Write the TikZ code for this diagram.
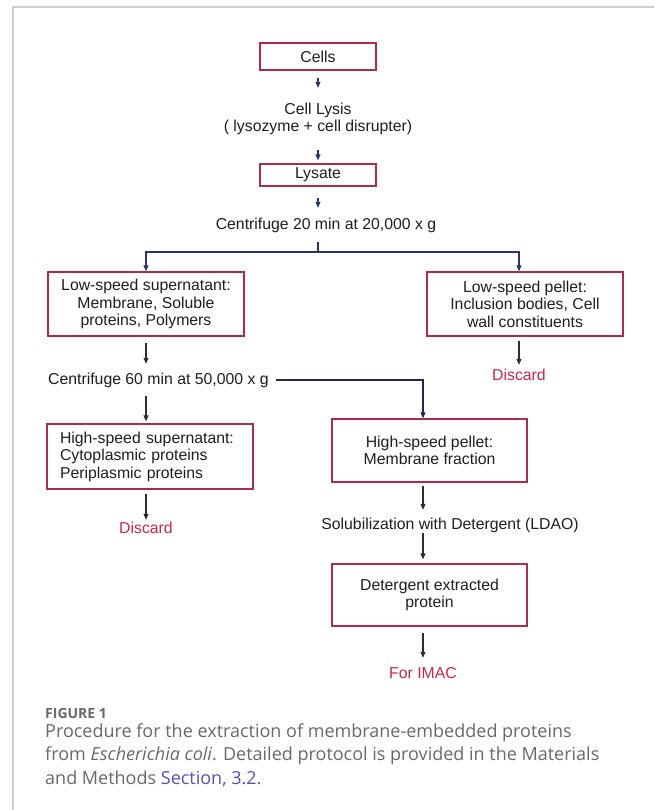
\documentclass[tikz,border=0pt]{standalone}
\usepackage{fontspec}
\setmainfont{Liberation Sans}
\newfontfamily\capfont{Open Sans}
\usetikzlibrary{arrows.meta}
\definecolor{boxred}{RGB}{170,45,75}
\definecolor{navy}{RGB}{40,52,110}
\definecolor{darkline}{RGB}{45,45,55}
\definecolor{darknavy}{RGB}{35,40,75}
\definecolor{redtxt}{RGB}{200,40,75}
\definecolor{txt}{RGB}{30,30,30}
\definecolor{capgray}{RGB}{105,105,105}
\definecolor{linkblue}{RGB}{90,80,180}
\definecolor{framegray}{RGB}{205,205,205}
\begin{document}
\begin{tikzpicture}[x=1pt,y=-1pt,
  every node/.style={font=\fontsize{15.8}{17.5}\selectfont, text=txt, inner sep=0pt},
  procbox/.style={draw=boxred, line width=1.4pt, align=center},
  plain/.style={align=center},
  redlabel/.style={text=redtxt},
  captext/.style={anchor=base west, font=\capfont\fontsize{18}{22}\selectfont, text=capgray},
  arrnavy/.style={draw=navy, line width=1.1pt, -{Triangle[length=6pt,width=5pt]}},
  arrdark/.style={draw=darkline, line width=1.1pt, -{Triangle[length=6pt,width=5pt]}},
  arrdn/.style={draw=darknavy, line width=1.1pt, -{Triangle[length=6pt,width=5pt]}},
]
\useasboundingbox (0,0) rectangle (654,810);
\fill[white] (0,0) rectangle (654,810);
\draw[framegray, line width=1.5pt] (13,810) -- (13,7) -- (654,7);

% nodes
\node[procbox, minimum width=116pt, minimum height=27pt] (cells) at (318,56.5) {Cells};
\node[plain, minimum height=62pt] (lysis) at (318,119) {Cell Lysis\\( lysozyme + cell disrupter)};
\node[procbox, minimum width=116pt, minimum height=22pt] (lysate) at (318,175) {Lysate};
\node[plain, minimum height=34pt] (cf1) at (326,225) {Centrifuge 20 min at 20,000 x g};
\coordinate (split) at (318,252);
\node[procbox, minimum width=196pt, minimum height=64pt] (lss) at (146,304) {Low-speed supernatant:\\Membrane, Soluble\\proteins, Polymers};
\node[procbox, minimum width=196pt, minimum height=64pt] (lsp) at (525,304) {Low-speed pellet:\\Inclusion bodies, Cell\\wall constituents};
\node[redlabel, minimum height=20pt] (disc1) at (519,375) {Discard};
\node[anchor=west, minimum height=32pt] (cf2) at (48,380) {Centrifuge 60 min at 50,000 x g};
\node[procbox, minimum width=206pt, minimum height=65pt, align=left, text width=180pt] (hss) at (150,456.5) {High-speed supernatant:\\Cytoplasmic proteins\\Periplasmic proteins};
\node[redlabel, minimum height=16pt] (disc2) at (146,528) {Discard};
\node[procbox, minimum width=195pt, minimum height=63pt] (hsp) at (429.5,450.5) {High-speed pellet:\\Membrane fraction};
\node[plain, minimum height=16pt] (solub) at (450,525) {Solubilization with Detergent (LDAO)};
\node[procbox, minimum width=195pt, minimum height=62pt] (det) at (429.5,595) {Detergent extracted\\protein};
\node[redlabel, minimum height=16pt] (imac) at (423,673) {For IMAC};

\coordinate (lspx) at ([xshift=-6pt]lsp.south);
\coordinate (lspn) at ([xshift=-6pt]lsp.north);
\coordinate (hspn) at ([xshift=-6.5pt]hsp.north);
\coordinate (hspx) at ([xshift=-6.5pt]hsp.south);
\coordinate (detn) at ([xshift=-6.5pt]det.north);
\coordinate (detx) at ([xshift=-6.5pt]det.south);

% connectors
\draw[arrnavy, shorten <=7pt] (cells) -- (lysis);
\draw[arrnavy, shorten >=3pt] (lysis) -- (lysate);
\draw[arrnavy, shorten <=11pt] (lysate.south) -- (lysate.south |- cf1.north);
\draw[navy, line width=1.1pt] (lysate.south |- cf1.south) -- (split);
\draw[arrnavy] (split) -| (lss.north);
\draw[arrnavy] (split) -| (lspn);
\draw[arrdark, shorten <=4pt] (lspx) -- (disc1.north);
\draw[arrdark, shorten <=6pt] (lss.south) -- (lss.south |- cf2.north);
\draw[arrdark, shorten >=2pt] (lss.south |- cf2.south) -- (lss.south |- hss.north);
\draw[arrdn, shorten <=7pt] (cf2.east) -| (hspn);
\draw[arrdark, shorten <=4pt] (lss.south |- hss.south) -- (disc2.north);
\draw[arrdark, shorten <=3pt, shorten >=7pt] (hspx) -- (hspx |- solub.north);
\draw[arrdark, shorten >=4pt] (hspx |- solub.south) -- (detn);
\draw[arrdark, shorten <=6pt, shorten >=7pt] (detx) -- (imac.north);

% caption
\node[anchor=base west, font=\capfont\bfseries\fontsize{14}{16}\selectfont, text=capgray] (figlabel) at (45,718) {FIGURE 1};
\node[captext] (cap1) at (45,737) {Procedure for the extraction of membrane-embedded proteins};
\node[captext] (cap2) at (45,760.5) {from \textit{Escherichia coli}. Detailed protocol is provided in the Materials};
\node[captext] (cap3) at (45,784) {and Methods \textcolor{linkblue}{Section, 3.2}.};
\end{tikzpicture}
\end{document}
